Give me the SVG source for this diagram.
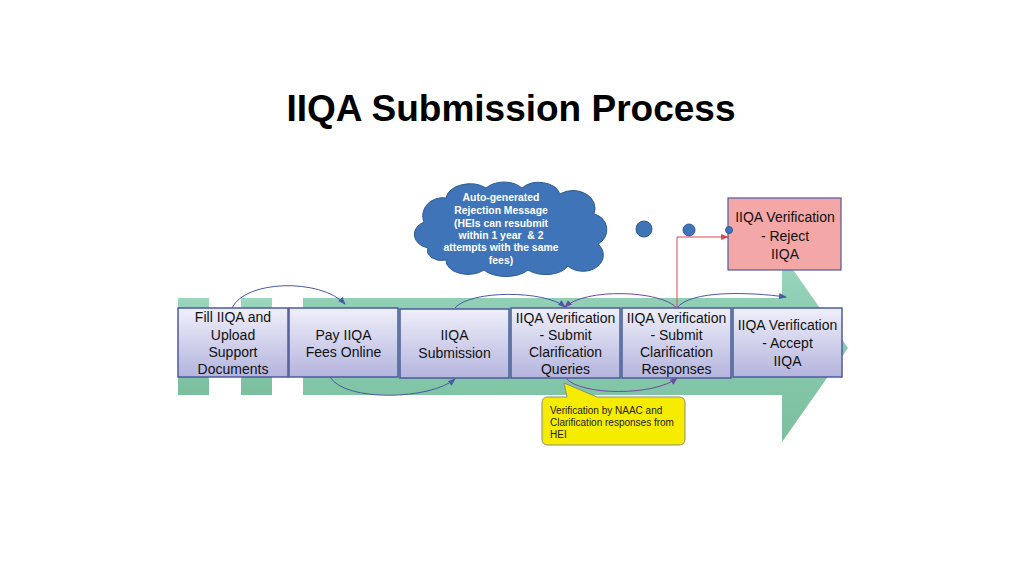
<svg xmlns="http://www.w3.org/2000/svg" width="1023" height="573" viewBox="0 0 1023 573">
<defs>
<linearGradient id="boxg" x1="0" y1="0" x2="0" y2="1">
<stop offset="0" stop-color="#efeffa"/>
<stop offset="1" stop-color="#b4b4de"/>
</linearGradient>
<linearGradient id="arrg" x1="0" y1="0" x2="0" y2="1">
<stop offset="0" stop-color="#9bd6bd"/>
<stop offset="0.5" stop-color="#86c9ad"/>
<stop offset="1" stop-color="#7bbf9f"/>
</linearGradient>
<marker id="ab" markerWidth="8" markerHeight="8" refX="7" refY="4" orient="auto" markerUnits="userSpaceOnUse">
<path d="M0,1 L8,4 L0,7 Z" fill="#4a58a8"/>
</marker>
<marker id="ap" markerWidth="8" markerHeight="8" refX="7" refY="4" orient="auto" markerUnits="userSpaceOnUse">
<path d="M0,1 L8,4 L0,7 Z" fill="#7048a0"/>
</marker>
<marker id="ar" markerWidth="8" markerHeight="8" refX="7" refY="4" orient="auto" markerUnits="userSpaceOnUse">
<path d="M0,1 L8,4 L0,7 Z" fill="#d8484f"/>
</marker>
</defs>
<style>
.box{fill:url(#boxg);stroke:#4d5b9c;stroke-width:1.5}
.t{font-family:"Liberation Sans",Arial,sans-serif;font-size:14px;fill:#111;text-anchor:middle}
.c{font-family:"Liberation Sans",Arial,sans-serif;font-size:10.4px;font-weight:bold;fill:#fff;text-anchor:middle}
.y{font-family:"Liberation Sans",Arial,sans-serif;font-size:10px;fill:#222}
.cb{fill:none;stroke:#4a58a8;stroke-width:1}
.cp{fill:none;stroke:#7048a0;stroke-width:1}
.blue{fill:#3f74b8;stroke:#2f5a93;stroke-width:1}
</style>
<rect width="1023" height="573" fill="#fff"/>
<text x="511" y="121" font-family="Liberation Sans,Arial,sans-serif" font-size="37" font-weight="bold" text-anchor="middle" fill="#000">IIQA Submission Process</text>

<g id="big-arrow">
<rect x="178" y="298" width="31" height="97" fill="url(#arrg)"/>
<rect x="241" y="298" width="31" height="97" fill="url(#arrg)"/>
<path d="M303,298 L782,298 L782,254 L848,348 L782,442 L782,395 L303,395 Z" fill="url(#arrg)"/>
</g>

<g id="cloud">
<path class="blue" d="M428,248 a18,14 0 0 1 -4,-26 a20,18 0 0 1 22,-24 a24,16 0 0 1 40,-10 a22,14 0 0 1 36,0 a22,16 0 0 1 38,6 a22,18 0 0 1 34,20 a16,16 0 0 1 4,30 a20,16 0 0 1 -30,22 a24,14 0 0 1 -40,4 a26,14 0 0 1 -44,0 a22,14 0 0 1 -38,-10 a14,10 0 0 1 -18,-12 Z"/>
<text class="c" x="501" y="201">Auto-generated</text>
<text class="c" x="501" y="214">Rejection Message</text>
<text class="c" x="501" y="227">(HEIs can resubmit</text>
<text class="c" x="501" y="239" xml:space="preserve">within 1 year  &amp; 2</text>
<text class="c" x="501" y="251">attempts with the same</text>
<text class="c" x="501" y="264">fees)</text>
</g>

<g id="node-reject">
<rect x="728" y="198" width="113" height="72" fill="#f4a7a7" stroke="#4d5b9c" stroke-width="1.2"/>
<text class="t" x="785" y="222">IIQA Verification</text>
<text class="t" x="785" y="241">- Reject</text>
<text class="t" x="785" y="259">IIQA</text>
</g>

<g id="dots">
<circle class="blue" cx="644" cy="229" r="8"/>
<circle class="blue" cx="689" cy="230" r="6"/>
<circle class="blue" cx="729" cy="230" r="3.5"/>
</g>

<g id="node-fill">
<rect class="box" x="178" y="308" width="110" height="69"/>
<text class="t" x="233" y="322">Fill IIQA and</text>
<text class="t" x="233" y="340">Upload</text>
<text class="t" x="233" y="357">Support</text>
<text class="t" x="233" y="374">Documents</text>
</g>
<g id="node-pay">
<rect class="box" x="289" y="308" width="109" height="69"/>
<text class="t" x="343.5" y="340">Pay IIQA</text>
<text class="t" x="343.5" y="357">Fees Online</text>
</g>
<g id="node-submission">
<rect class="box" x="400" y="309" width="109" height="69"/>
<text class="t" x="454.5" y="340">IIQA</text>
<text class="t" x="454.5" y="358">Submission</text>
</g>
<g id="node-queries">
<rect class="box" x="511" y="308" width="109" height="70"/>
<text class="t" x="565.5" y="323">IIQA Verification</text>
<text class="t" x="565.5" y="340">- Submit</text>
<text class="t" x="565.5" y="357">Clarification</text>
<text class="t" x="565.5" y="374">Queries</text>
</g>
<g id="node-responses">
<rect class="box" x="622" y="308" width="109" height="70"/>
<text class="t" x="676.5" y="323">IIQA Verification</text>
<text class="t" x="676.5" y="340">- Submit</text>
<text class="t" x="676.5" y="357">Clarification</text>
<text class="t" x="676.5" y="374">Responses</text>
</g>
<g id="node-accept">
<rect class="box" x="733" y="308" width="109" height="69"/>
<text class="t" x="787.5" y="330">IIQA Verification</text>
<text class="t" x="787.5" y="348">- Accept</text>
<text class="t" x="787.5" y="366">IIQA</text>
</g>

<g id="connectors">
<path class="cb" d="M232,308 C245,280 320,278 345,304" marker-end="url(#ab)"/>
<path class="cb" d="M330,377 C345,402 430,400 455,379" marker-end="url(#ab)"/>
<path class="cb" d="M455,308 C470,290 545,290 565,307" marker-end="url(#ab)"/>
<path class="cp" d="M677,308 C660,290 585,288 565,307" marker-end="url(#ap)"/>
<path class="cp" d="M566,378 C580,396 655,396 677,378" marker-end="url(#ap)"/>
<path class="cb" d="M677,308 C690,290 750,292 786,297" marker-end="url(#ab)"/>
<path d="M677,308 L677,237 L728,237" fill="none" stroke="#d8484f" stroke-width="1" marker-end="url(#ar)"/>
</g>

<g id="callout">
<path d="M548,397 L567,397 L564,383 L597,397 L679,397 Q685,397 685,403 L685,439 Q685,445 679,445 L548,445 Q542,445 542,439 L542,403 Q542,397 548,397 Z" fill="#f6ec00" stroke="#8c8c78" stroke-width="1"/>
<text class="y" x="550" y="414">Verification by NAAC and</text>
<text class="y" x="550" y="426">Clarification responses from</text>
<text class="y" x="550" y="438">HEI</text>
</g>
</svg>
